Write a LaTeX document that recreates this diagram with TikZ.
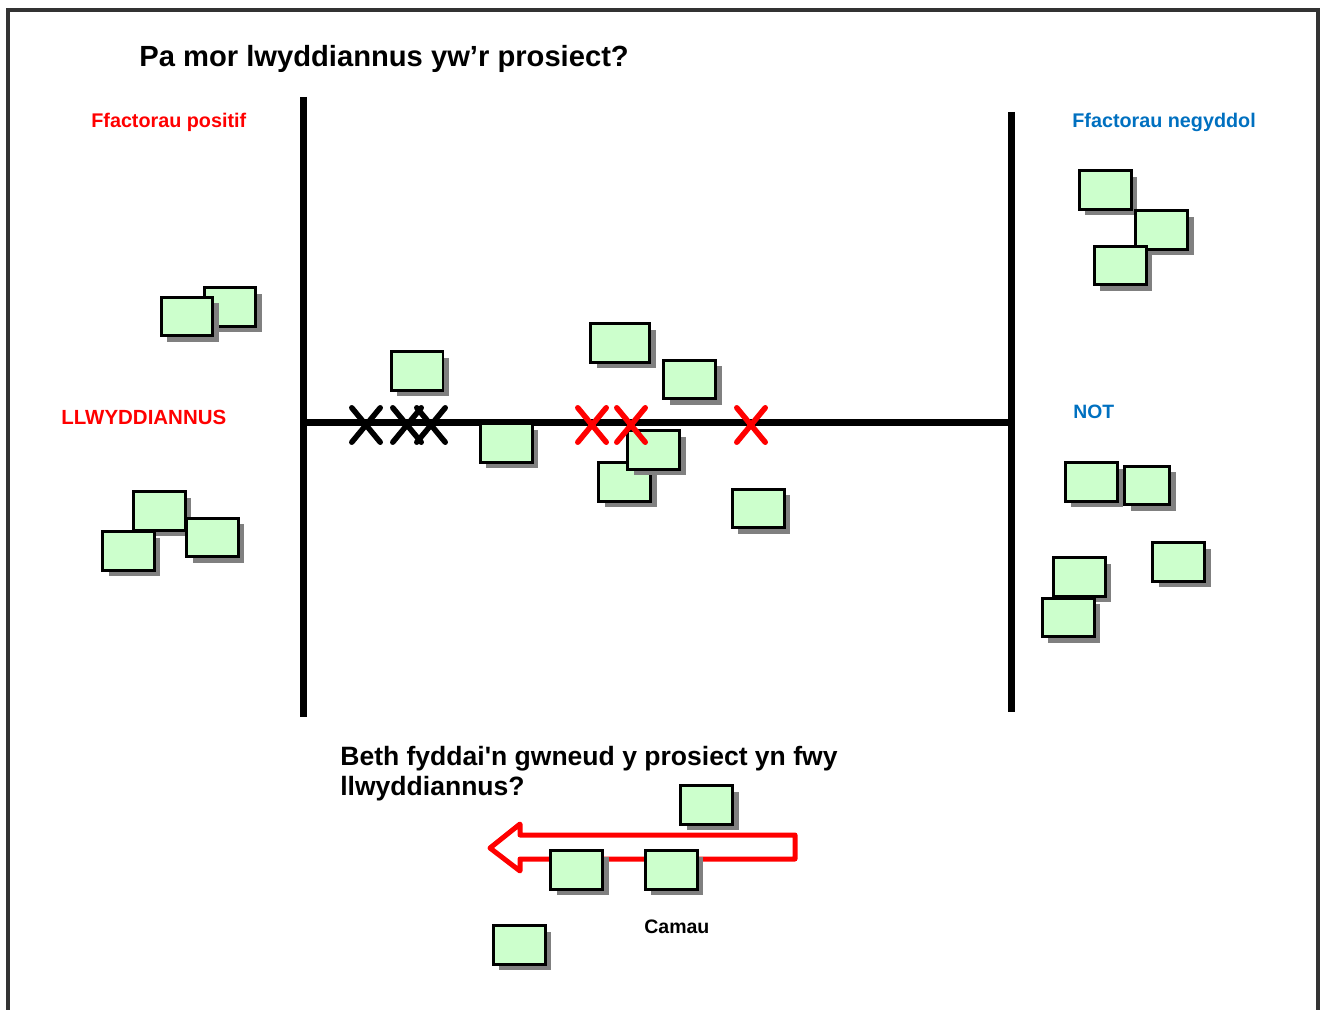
\documentclass[tikz,border=0pt]{standalone}
\usepackage{fontspec}
\setmainfont{Liberation Sans}
\usepackage{tikz}
\usepackage{xcolor}
\usetikzlibrary{shadows, shapes.misc, positioning}

\definecolor{framegray}{HTML}{333333}
\definecolor{notegreen}{HTML}{CCFFCC}
\definecolor{posred}{HTML}{FF0000}
\definecolor{negblue}{HTML}{0070C0}

\tikzset{
    note/.style={draw, line width=0.06cm, fill=notegreen, minimum width=1.04cm, minimum height=0.77cm, inner sep=0pt,
        drop shadow={shadow xshift=0.12cm, shadow yshift=-0.12cm, fill=black!50, opacity=1}},
    crossmark/.style={cross out, draw, line width=0.11cm, line cap=round, minimum width=0.46cm, minimum height=0.58cm, inner sep=0pt},
    axis/.style={line width=0.14cm},
    txt/.style={anchor=base west, inner sep=0pt}
}

\begin{document}
\begin{tikzpicture}[x=0.02cm, y=-0.02cm]
                        \useasboundingbox (0, 0) rectangle (1322, 1010);
                        \draw[framegray, line width=0.08cm] (8, 1010) -- (8, 10) -- (1318, 10) -- (1318, 1010);

                        % headings
                        \node[txt, font=\bfseries\fontsize{16.6}{19}\selectfont] (title) at (139, 67) {Pa mor lwyddiannus yw’r prosiect?};
                        \node[txt, posred, font=\bfseries\fontsize{11.25}{13}\selectfont] (pos) at (91, 128) {Ffactorau positif};
                        \node[txt, negblue, font=\bfseries\fontsize{11.25}{13}\selectfont] (neg) at (1072, 128) {Ffactorau negyddol};
                        \node[txt, posred, font=\bfseries\fontsize{11.65}{14}\selectfont] (succ) at (61, 424) {LLWYDDIANNUS};
                        \node[txt, negblue, font=\bfseries\fontsize{11}{13}\selectfont] (not) at (1073, 418) {NOT};
                        \node[txt, align=left, font=\bfseries\fontsize{15.1}{17}\selectfont] (q) at (340, 795.7) {Beth fyddai\textquotesingle n gwneud y prosiect yn fwy\\llwyddiannus?};
                        \node[txt, font=\bfseries\fontsize{11.1}{13}\selectfont] (steps) at (644, 933) {Camau};

                        % scale
                        \draw[axis] (303, 97) -- (303, 717);
                        \draw[axis] (1011, 112) -- (1011, 712);
                        \draw[axis] (305, 422) -- (1008, 422);

                        % arrow
                        \draw[posred, line width=0.1cm, line join=round]
                        (490, 848) -- (520, 824) -- (520, 835) -- (795, 835) -- (795, 859) -- (520, 859) -- (520, 871) -- cycle;

                        % notes, positive side
                        \node[note] (p1) at (230, 307) {};
                        \node[note] (p2) at (187, 316.5) {};
                        \node[note] (p3) at (159.5, 511) {};
                        \node[note] (p4) at (128.5, 551) {};
                        \node[note] (p5) at (212.5, 537.5) {};

                        % notes on the scale
                        \node[note] (m1) at (417, 371) {};
                        \node[note] (m2) at (506, 443) {};
                        \node[note, minimum width=1.18cm] (m3) at (620, 343) {};
                        \node[note] (m4) at (689.5, 379.5) {};
                        \node[note] (m5) at (624.5, 482) {};
                        \node[note] (m6) at (653.5, 450) {};
                        \node[note] (m7) at (758, 508.5) {};

                        % notes, negative side
                        \node[note] (n1) at (1105, 190) {};
                        \node[note] (n2) at (1161.5, 230) {};
                        \node[note] (n3) at (1120, 265.5) {};
                        \node[note] (n4) at (1091, 482) {};
                        \node[note, minimum width=0.9cm] (n5) at (1147, 485.5) {};
                        \node[note] (n6) at (1079, 577) {};
                        \node[note] (n7) at (1068, 617.5) {};
                        \node[note] (n8) at (1178.5, 562) {};

                        % notes, steps
                        \node[note] (s1) at (706.5, 805) {};
                        \node[note] (s2) at (576.5, 870) {};
                        \node[note] (s3) at (671, 870) {};
                        \node[note] (s4) at (519, 945) {};

                        % crosses
                        \node[crossmark] (x1) at (366, 425) {};
                        \node[crossmark] (x2) at (407, 425) {};
                        \node[crossmark] (x3) at (431, 425) {};
                        \node[crossmark, posred] (x4) at (592, 425) {};
                        \node[crossmark, posred] (x5) at (631, 425) {};
                        \node[crossmark, posred] (x6) at (751, 425) {};
                    \end{tikzpicture}
\end{document}
